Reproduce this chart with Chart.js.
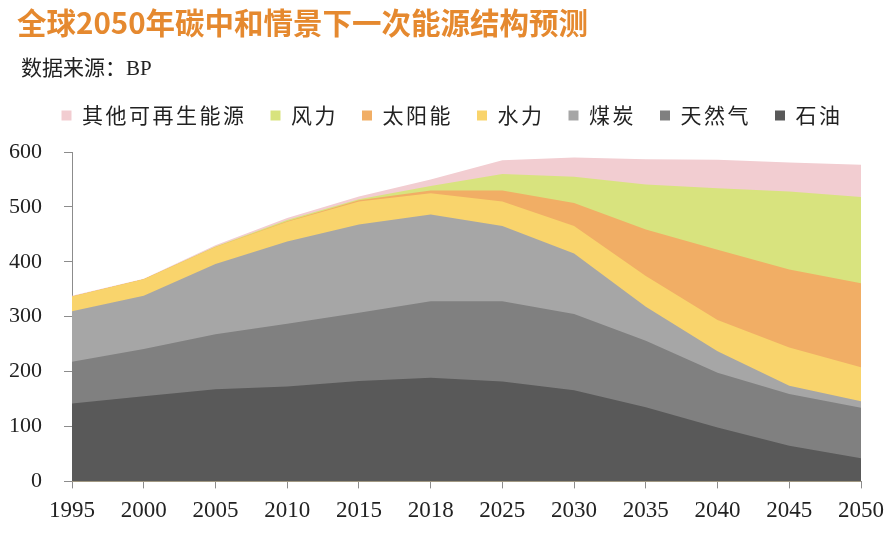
<!DOCTYPE html>
<html>
<head>
<meta charset="utf-8">
<script src="https://cdn.jsdelivr.net/npm/chart.js@4/dist/chart.umd.min.js"></script>
<style>
  html, body { margin: 0; padding: 0; background: #fff; }
  #wrap { position: relative; width: 893px; height: 537px; overflow: hidden; }
  #title { position: absolute; left: 17px; top: 7px; font: bold 29.5px/29.5px "Noto Sans CJK SC", sans-serif; color: #E5892F; white-space: nowrap; }
  #sub { position: absolute; left: 21px; top: 58px; font: 21px/21px "Liberation Serif", "Noto Sans CJK SC", serif; color: #222; white-space: nowrap; }
  canvas { position: absolute; left: 0; top: 0; }
</style>
</head>
<body>
<div id="wrap">
  <canvas id="c" width="893" height="537"></canvas>
  <div id="title">全球2050年碳中和情景下一次能源结构预测</div>
  <div id="sub">数据来源：BP</div>
</div>
<script>
const years = ['1995','2000','2005','2010','2015','2018','2025','2030','2035','2040','2045','2050'];
const oil    = [142, 155, 168, 173, 183, 189, 182, 166, 135,  98,  65,  42];
const gas    = [ 76,  86, 100, 114, 124, 139, 146, 139, 121, 100,  94,  92];
const coal   = [ 92,  97, 128, 150, 161, 158, 137, 110,  62,  39,  15,  12];
const hydro  = [ 27,  30,  31,  36,  42,  39,  45,  50,  56,  57,  70,  62];
const solar  = [  0,   0,   0,   1,   2,   5,  20,  42,  85, 128, 142, 153];
const wind   = [  0,   0,   1,   2,   2,   8,  30,  48,  82, 112, 142, 157];
const other  = [  1,   1,   2,   4,   5,  12,  25,  35,  46,  52,  53,  59];
const yTicks = [0, 100, 200, 300, 400, 500, 600];

function ds(label, data, color) {
  return { label, data, backgroundColor: color, borderColor: color, borderWidth: 0,
           fill: true, pointRadius: 0, tension: 0 };
}

const legendTweak = {
  id: 'legendTweak',
  beforeInit(chart) {
    const lg = chart.legend;
    const fit = lg.fit, draw = lg.draw;
    lg.fit = function () {
      const ctx = this.ctx; const prev = ctx.letterSpacing;
      ctx.letterSpacing = '2.5px';
      fit.call(this);
      ctx.letterSpacing = prev || '0px';
      this.height += 16;
    };
    lg.draw = function () {
      const ctx = this.ctx; const prev = ctx.letterSpacing;
      ctx.save();
      ctx.translate(21, 0);
      ctx.letterSpacing = '2.5px';
      draw.call(this);
      ctx.restore();
      ctx.letterSpacing = prev || '0px';
    };
  }
};

new Chart(document.getElementById('c'), {
  type: 'line',
  data: {
    labels: years,
    datasets: [
      ds('石油', oil, '#595959'),
      ds('天然气', gas, '#808080'),
      ds('煤炭', coal, '#A6A6A6'),
      ds('水力', hydro, '#F9D46C'),
      ds('太阳能', solar, '#F1AE65'),
      ds('风力', wind, '#D8E37E'),
      ds('其他可再生能源', other, '#F2CDD1')
    ]
  },
  options: {
    responsive: false,
    animation: false,
    layout: { padding: { top: 81, right: 31, bottom: 3, left: 0 } },
    plugins: {
      legend: {
        reverse: true,
        position: 'top',
        labels: {
          boxWidth: 10, boxHeight: 10, padding: 24,
          color: '#222',
          font: { family: '"Noto Sans CJK SC"', size: 21 }
        }
      },
      tooltip: { enabled: false },
      title: { display: false }
    },
    scales: {
      x: {
        offset: false,
        grid: { display: true, drawOnChartArea: false, drawTicks: true, tickLength: 7, color: '#8c8c8c' },
        border: { display: true, color: '#8c8c8c', width: 1 },
        ticks: { color: '#222', padding: 9, maxRotation: 0, autoSkip: false,
                 font: { family: '"Liberation Serif"', size: 23 } }
      },
      y: {
        stacked: true,
        min: 0, max: 600,
        afterBuildTicks(scale) { scale.ticks = yTicks.map(v => ({ value: v })); },
        afterFit(scale) { scale.width = 72; },
        grid: { display: true, drawOnChartArea: false, drawTicks: true, tickLength: 8, color: '#8c8c8c' },
        border: { display: true, color: '#8c8c8c', width: 1 },
        ticks: { color: '#222', padding: 22, font: { family: '"Liberation Serif"', size: 22 } }
      }
    }
  },
  plugins: [legendTweak]
});
</script>
</body>
</html>
